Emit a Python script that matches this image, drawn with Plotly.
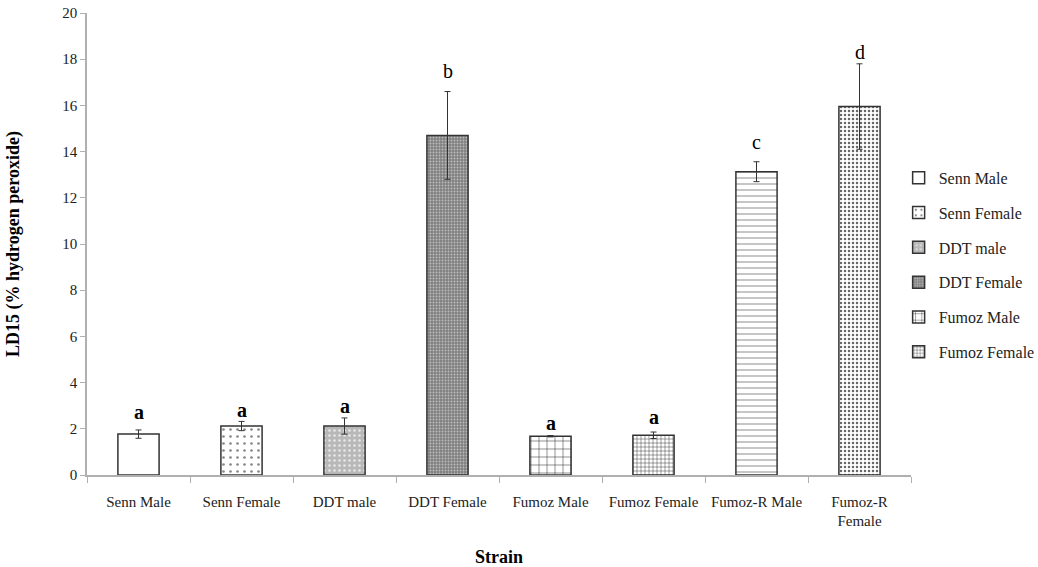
import plotly.graph_objects as go

categories = ["Senn Male", "Senn Female", "DDT male", "DDT Female",
              "Fumoz Male", "Fumoz Female", "Fumoz-R Male", "Fumoz-R Female"]
tick_labels = ["Senn Male", "Senn Female", "DDT male", "DDT Female",
               "Fumoz Male", "Fumoz Female", "Fumoz-R Male", "Fumoz-R<br>Female"]
values = [1.77, 2.12, 2.12, 14.7, 1.68, 1.72, 13.13, 15.95]
errors = [0.18, 0.2, 0.35, 1.9, 0.03, 0.14, 0.43, 1.85]
letters = ["<b>a</b>", "<b>a</b>", "<b>a</b>", "b", "<b>a</b>", "<b>a</b>", "c", "d"]
letter_y = [2.74, 2.8, 2.98, 17.5, 2.25, 2.5, 14.4, 18.3]
in_legend = [True, True, True, True, True, True, False, False]

styles = [
    dict(bg="white", fg="white", shape="", size=8, sol=0.3),
    dict(bg="white", fg="#888888", shape=".", size=7, sol=0.12),
    dict(bg="#b8b8b8", fg="#e8e8e8", shape=".", size=5, sol=0.2),
    dict(bg="#808080", fg="#bcbcbc", shape=".", size=3, sol=0.3),
    dict(bg="white", fg="#222222", shape="+", size=8, sol=0.12),
    dict(bg="white", fg="#222222", shape="+", size=4, sol=0.2),
    dict(bg="white", fg="#a0a0a0", shape="-", size=6, sol=0.2),
    dict(bg="white", fg="#666666", shape=".", size=4, sol=0.3),
]

SERIF = "Liberation Serif"

fig = go.Figure()
for i, c in enumerate(categories):
    s = styles[i]
    fig.add_trace(go.Bar(
        x=[tick_labels[i]], y=[values[i]], name=c,
        width=0.4,
        marker=dict(color=s["bg"], line=dict(color="#333333", width=1.5),
                    pattern=dict(shape=s["shape"], fgcolor=s["fg"], bgcolor=s["bg"],
                                 size=s["size"], solidity=s["sol"], fillmode="replace")),
        error_y=dict(type="data", array=[errors[i]], visible=True,
                     color="#333333", thickness=1, width=3),
        showlegend=in_legend[i], legendgroup=c,
    ))

for i in range(len(categories)):
    fig.add_annotation(x=tick_labels[i], y=letter_y[i], text=letters[i],
                       showarrow=False, xref="x", yref="y",
                       font=dict(family=SERIF, size=20, color="black"))

fig.update_layout(
    width=1038, height=567,
    paper_bgcolor="white", plot_bgcolor="white",
    margin=dict(l=87, r=127, t=13, b=92, autoexpand=False),
    barmode="overlay",
    font=dict(family=SERIF, color="#222222"),
    legend=dict(x=0.985, y=0.68, xanchor="left", yanchor="top",
                font=dict(family=SERIF, size=16, color="#222222"),
                tracegroupgap=11, traceorder="grouped",
                itemwidth=30, bgcolor="rgba(0,0,0,0)"),
    xaxis=dict(title=dict(text="<b>Strain</b>", font=dict(family=SERIF, size=18, color="black"),
                          standoff=38),
               showline=True, linecolor="#b0b0b0", linewidth=1.5,
               ticks="outside", tickson="boundaries", ticklen=6, tickcolor="#b0b0b0",
               ticklabelstandoff=12,
               tickfont=dict(family=SERIF, size=15, color="#222222"),
               showgrid=False, categoryorder="array", categoryarray=tick_labels),
    yaxis=dict(title=dict(text="<b>LD15 (% hydrogen peroxide)</b>",
                          font=dict(family=SERIF, size=18, color="black"), standoff=38),
               range=[0, 20], dtick=2, showline=True, linecolor="#b0b0b0", linewidth=1.5,
               ticks="outside", ticklen=5, tickcolor="#b0b0b0",
               tickfont=dict(family=SERIF, size=15, color="#222222"),
               showgrid=False, zeroline=False),
)

fig.write_html("out.html")
